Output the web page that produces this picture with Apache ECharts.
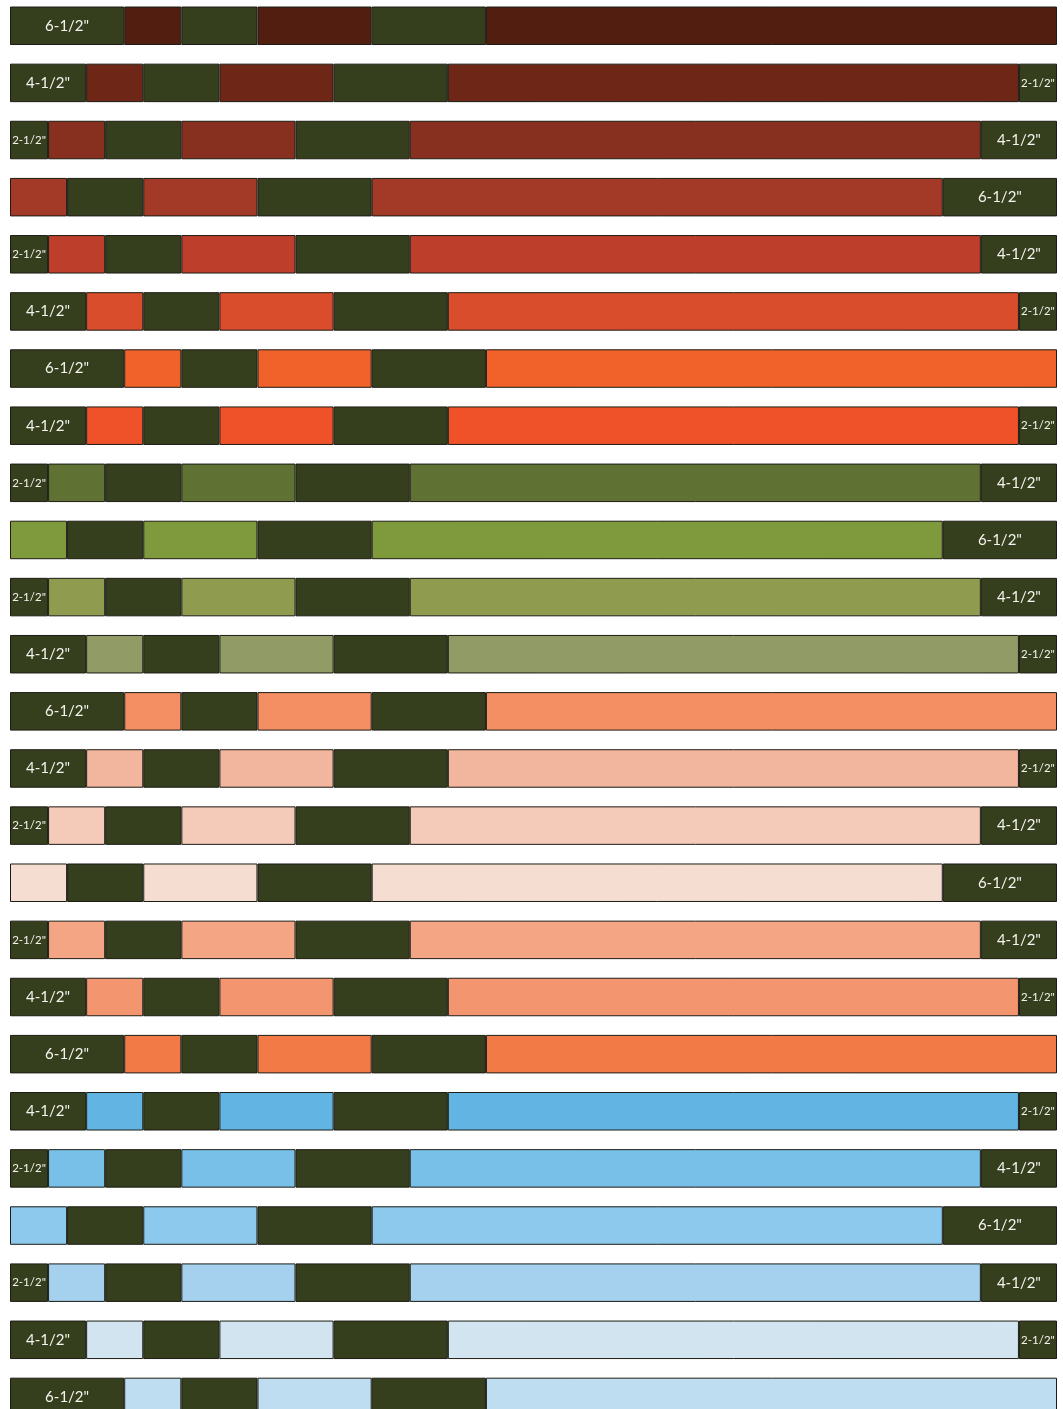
<!DOCTYPE html>
<html lang="en">
<head>
    <meta charset="UTF-8">
    <title>strip layout</title>
    <script src="https://cdn.jsdelivr.net/npm/echarts@6/dist/echarts.min.js"></script>
    <style>
        html, body { margin: 0; padding: 0; background: #fff; overflow: hidden; }
        #strips { position: relative; top: -3px; width: 1063px; height: 1432px; }
    </style>
</head>
<body>
<div id="strips"></div>

<script>
    // finished width (inches) of the dark block at the start of every strip
    var leads = [6, 4, 2, 0, 2, 4, 6, 4, 2, 0, 2, 4, 6, 4, 2, 0, 2, 4, 6, 4, 2, 0, 2, 4, 6];
    // fabric colour of each strip
    var rowColors = [
        '#521e10', '#6e2716', '#88301f', '#a33a27', '#bd3f2b', '#d94d2c', '#f0622a', '#ef5128',
        '#5f7233', '#7f993d', '#8f9c4f', '#919b66', '#f38f62', '#f2b59d', '#f4cab9', '#f5ddd2',
        '#f4a584', '#f39670', '#f27a47', '#62b5e3', '#78c0e8', '#8cc9ec', '#a5d1ee', '#d1e4ef',
        '#bfddf1'
    ];
    // middle pieces, colour / dark alternating
    var colorPieces = [3, 6, 30];
    var darkPieces = [4, 6];
    var stripLength = 55;
    var dark = '#363f1d';
    var rows = leads.map(function (v, i) { return 'row ' + (i + 1); });

    var chart = echarts.init(document.getElementById('strips'));

    function darkData(vals) {
        return vals.map(function (v) {
            if (!v) return '-';
            return {
                value: v,
                label: {fontSize: v <= 2 ? 11.5 : 15}
            };
        });
    }

    function colorData(w) {
        return rowColors.map(function (c) {
            return {value: w, itemStyle: {color: c}};
        });
    }

    var edgeLabel = {
        show: true,
        position: 'inside',
        color: '#f4f4ee',
        fontFamily: 'Lato',
        formatter: function (p) { return p.value + '-1/2"'; }
    };
    var border = {borderColor: '#1c1c14', borderWidth: 1};

    var series = [];
    series.push({
        name: 'lead', type: 'bar', stack: 's', barWidth: 38.5,
        itemStyle: Object.assign({color: dark}, border),
        label: edgeLabel,
        data: darkData(leads)
    });
    for (var k = 0; k < colorPieces.length; k++) {
        series.push({
            name: 'color' + k, type: 'bar', stack: 's',
            itemStyle: border,
            data: colorData(colorPieces[k])
        });
        if (k < darkPieces.length) {
            series.push({
                name: 'dark' + k, type: 'bar', stack: 's',
                itemStyle: Object.assign({color: dark}, border),
                data: rows.map(function () { return darkPieces[k]; })
            });
        }
    }
    series.push({
        name: 'trail', type: 'bar', stack: 's',
        itemStyle: Object.assign({color: dark}, border),
        label: edgeLabel,
        data: darkData(leads.map(function (v) { return 6 - v; }))
    });

    chart.setOption({
        animation: false,
        grid: {left: 10, right: 6, top: 0.2, height: 1428.3},
        xAxis: {type: 'value', min: 0, max: stripLength, show: false},
        yAxis: {type: 'category', data: rows, inverse: true, show: false},
        series: series
    });
</script>
</body>
</html>
